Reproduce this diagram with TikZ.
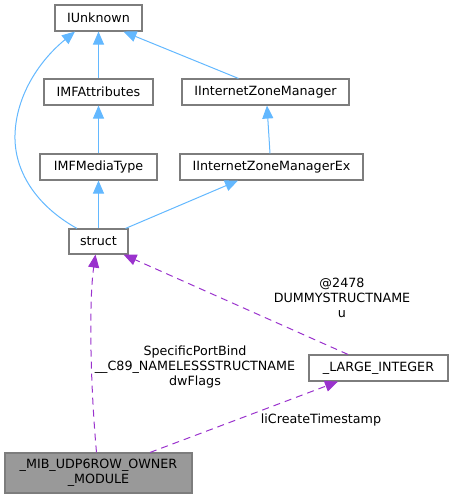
\documentclass[tikz,border=0pt]{standalone}
\usepackage{fontspec}
\setmainfont{DejaVu Sans}
\usetikzlibrary{arrows.meta}
\definecolor{inhblue}{RGB}{99,184,255}
\definecolor{usepurple}{RGB}{154,50,205}
\definecolor{boxgray}{RGB}{125,125,125}
\definecolor{fillgray}{RGB}{153,153,153}

\begin{document}
\begin{tikzpicture}[x=1pt,y=-1pt,every node/.style={font=\fontsize{12.7}{15}\selectfont},
    cls/.style={draw=boxgray,line width=1.1pt,fill=white,inner sep=0pt,minimum height=26pt},
    inh/.style={inhblue,line width=1pt,-{Triangle[length=13pt,width=11pt]}},
    usg/.style={usepurple,line width=1pt,dash pattern=on 7pt off 5pt,-{Triangle[length=13pt,width=11pt]}},
    lbl/.style={align=center,inner sep=0pt}]
                \useasboundingbox (0,0) rectangle (453,499);
                % classes
                \node[cls,minimum width=87pt] (iunknown) at (98.5,18) {IUnknown};
                \node[cls,minimum width=109pt] (imfattr) at (98.5,92) {IMFAttributes};
                \node[cls,minimum width=167pt] (izm) at (265.5,92) {IInternetZoneManager};
                \node[cls,minimum width=117pt] (imfmedia) at (98.5,167) {IMFMediaType};
                \node[cls,minimum width=183pt] (izmex) at (271.5,167) {IInternetZoneManagerEx};
                \node[cls,minimum width=59pt,minimum height=25pt] (strct) at (98.5,241.5) {struct};
                \node[cls,minimum width=139pt] (largeint) at (378.5,368) {\_LARGE\_INTEGER};
                \node[cls,fill=fillgray,minimum width=187pt,minimum height=40pt,align=center] (mib) at (98.5,473) {\_MIB\_UDP6ROW\_OWNER\\\_MODULE};
                % inheritance
                \draw[inh] (imfattr) -- (iunknown);
                \draw[inh] (imfmedia) -- (imfattr);
                \draw[inh] (strct) -- (imfmedia);
                \draw[inh] ([xshift=-27pt]izm.north) -- ([xshift=25pt]iunknown.south);
                \draw[inh] ([xshift=-1.5pt]izmex.north) -- ([xshift=1.5pt]izm.south);
                \draw[inh] ([xshift=27pt]strct.north) -- ([xshift=-33.5pt]izmex.south);
                \draw[inh] ([xshift=-21.5pt]strct.north) .. controls (35,205) and (14,170) .. (15,135)
                    .. controls (16,95) and (40,60) .. ([xshift=-23.5pt]iunknown.south);
                % usage
                \draw[usg] ([xshift=-2pt]mib.north) .. controls (90,380) and (89,300) .. ([xshift=-3pt]strct.south);
                \draw[usg] ([xshift=-30.5pt]largeint.north) -- ([xshift=25pt]strct.south);
                \draw[usg] ([xshift=51.5pt]mib.north) -- ([xshift=-40.5pt]largeint.south);
                % labels
                \node[lbl] (lblu) at (342,298) {@2478\\DUMMYSTRUCTNAME\\u};
                \node[lbl] (lblbind) at (195,367) {SpecificPortBind\\\_\_C89\_NAMELESSSTRUCTNAME\\dwFlags};
                \node[lbl] (lblts) at (321,420) {liCreateTimestamp};
            \end{tikzpicture}
\end{document}
